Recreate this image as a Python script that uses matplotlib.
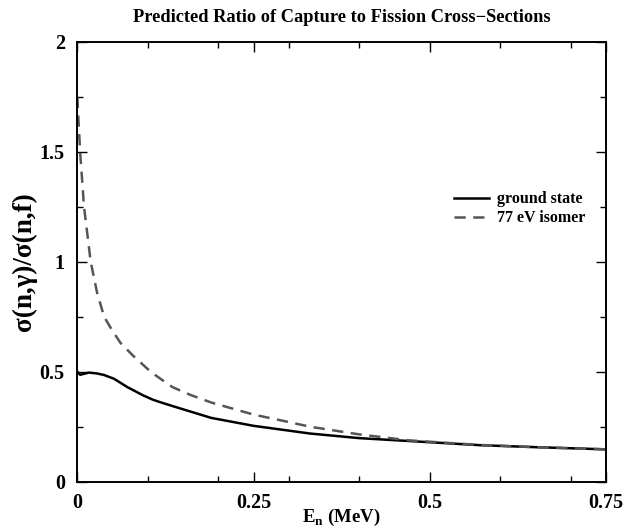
import matplotlib
matplotlib.use("Agg")
import matplotlib.pyplot as plt
from matplotlib.ticker import MultipleLocator

# Data
x_ground = [0.0, 0.004, 0.009, 0.0166, 0.028, 0.038, 0.052, 0.062, 0.071, 0.080, 0.093,
            0.107, 0.117, 0.145, 0.19, 0.25, 0.33, 0.40, 0.47, 0.571, 0.65, 0.75]
y_ground = [0.500, 0.486, 0.490, 0.496, 0.492, 0.485, 0.468, 0.448, 0.430, 0.415, 0.393,
            0.373, 0.362, 0.334, 0.290, 0.254, 0.219, 0.198, 0.185, 0.166, 0.157, 0.147]

x_isomer = [0.0, 0.002, 0.004, 0.0095, 0.019, 0.028, 0.038, 0.050, 0.0615, 0.080, 0.104,
            0.117, 0.135, 0.16, 0.19, 0.25, 0.29, 0.33, 0.40, 0.47, 0.571, 0.65, 0.75]
y_isomer = [1.75, 1.62, 1.50, 1.25, 1.00, 0.86, 0.75, 0.685, 0.630, 0.570, 0.500,
            0.470, 0.430, 0.395, 0.360, 0.305, 0.278, 0.250, 0.215, 0.188, 0.167, 0.157, 0.147]

x_ticks = [0, 0.25, 0.5, 0.75]
x_tick_labels = ["0", "0.25", "0.5", "0.75"]
y_ticks = [0, 0.5, 1, 1.5, 2]
y_tick_labels = ["0", "0.5", "1", "1.5", "2"]

plt.rcParams['font.family'] = ['Liberation Serif', 'DejaVu Serif']
plt.rcParams['mathtext.fontset'] = 'custom'
plt.rcParams['mathtext.rm'] = 'Liberation Serif'
plt.rcParams['mathtext.bf'] = 'Liberation Serif:bold'

fig = plt.figure(figsize=(6.24, 5.29), dpi=100)
ax = fig.add_axes([77.3/624, 1 - 481.7/529, (606-77.3)/624, (481.7-41.7)/529])

ax.plot(x_ground, y_ground, color='black', lw=1.8, label='ground state')
ax.plot(x_isomer, y_isomer, color='#555555', lw=1.8, ls=(0, (4.5, 3)), label='77 eV isomer')

ax.set_xlim(0, 0.75)
ax.set_ylim(0, 2)
ax.set_xticks(x_ticks)
ax.set_xticklabels(x_tick_labels)
ax.set_yticks(y_ticks)
ax.set_yticklabels(y_tick_labels)
ax.xaxis.set_minor_locator(MultipleLocator(0.1))
ax.yaxis.set_minor_locator(MultipleLocator(0.25))
ax.tick_params(which='both', direction='in', top=True, right=True, width=1.0)
ax.tick_params(which='major', length=7, labelsize=14.5)
ax.tick_params(axis='x', which='major', pad=8)
ax.tick_params(axis='y', which='major', pad=9)
ax.tick_params(which='minor', length=4)
for lab in ax.get_xticklabels() + ax.get_yticklabels():
    lab.set_fontweight('bold')
for s in ax.spines.values():
    s.set_linewidth(1.4)

ax.set_title('Predicted Ratio of Capture to Fission Cross\u2212Sections',
             fontsize=13.2, fontweight='bold', pad=14)
ax.set_xlabel(r'E$_\mathbf{n}$ (MeV)', fontsize=13.5, fontweight='bold')
ax.xaxis.set_label_coords(0.5, -0.058)
ax.set_ylabel('σ(n,γ)/σ(n,f)', fontsize=19.5, fontweight='bold', labelpad=2)

leg = ax.legend(loc='upper left', bbox_to_anchor=(0.713, 0.66), frameon=False,
                prop={'size': 11.5, 'weight': 'bold'}, handlelength=2.2,
                handletextpad=0.5, labelspacing=0.2, borderaxespad=0,
                borderpad=0)

fig.savefig('out.png', dpi=100)
